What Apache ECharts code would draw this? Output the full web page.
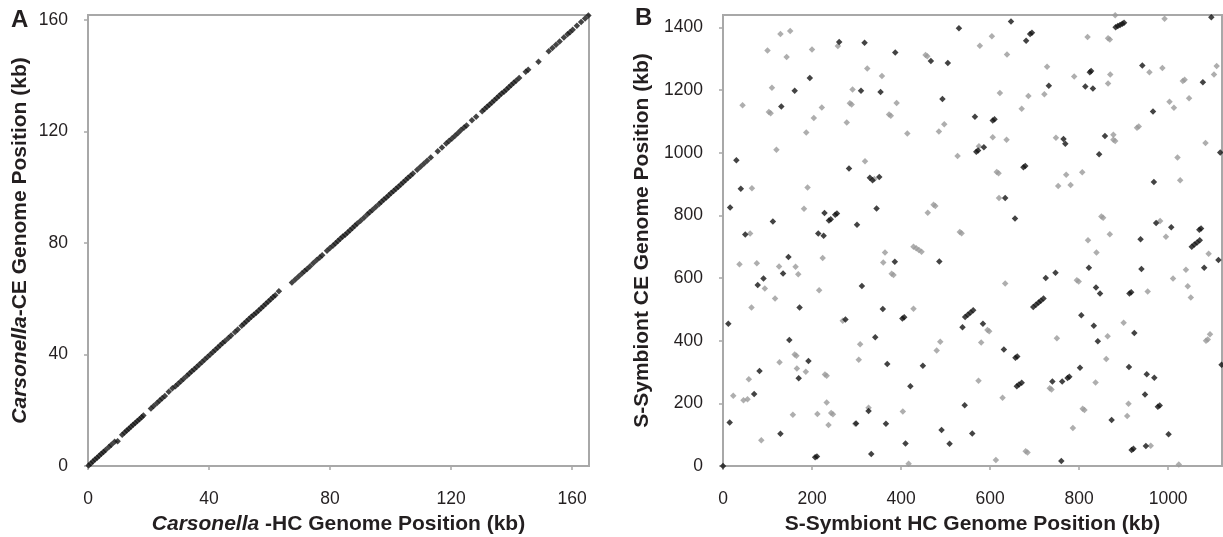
<!DOCTYPE html>
<html>
<head>
<meta charset="utf-8">
<script src="https://cdn.jsdelivr.net/npm/echarts@6/dist/echarts.min.js"></script>
<style>
html,body{margin:0;padding:0;background:#fff;}
#chart{width:1223px;height:537px;}
</style>
</head>
<body>
<div id="chart"></div>
<script>
// ---------- Panel A: Carsonella HC (x) vs CE (y), kb ----------
const aTicks = [0, 40, 80, 120, 160];
const aXMax = 165.6, aYMax = 161.8;
const aDots = [
 [0.2,0.2],[0.9,0.9],[1.6,1.6],[2.3,2.3],[3.0,3.0],[3.7,3.7],[4.4,4.4],[5.1,5.0],
 [5.8,5.7],[6.9,6.8],[7.7,7.6],[8.8,8.7],[9.8,8.9],
 [11.3,11.2],[12.1,12.0],
 [12.8,12.7],[13.5,13.4],[14.2,14.1],[14.9,14.8],[15.6,15.4],[16.3,16.1],[17.0,16.8],[17.7,17.5],[18.3,18.1],
 [20.8,20.6],[21.7,21.5],
 [22.8,22.6],[23.7,23.5],[24.5,24.3],[25.4,25.1],
 [26.7,26.6],[27.9,27.9],
 [28.9,28.6],[29.8,29.5],[30.7,30.4],[31.6,31.3],
 [32.7,32.4],[33.5,33.2],[34.3,34.0],[35.1,34.7],[35.9,35.5],[36.8,36.4],
 [37.7,37.3],[38.6,38.2],[39.5,39.1],[40.4,40.0],
 [41.3,40.9],[42.1,41.7],[42.9,42.5],[43.7,43.3],[44.5,44.1],[45.3,44.8],
 [46.4,45.9],[47.3,46.8],[48.6,48.1],[49.5,49.0],
 [50.8,50.3],[51.6,51.1],[52.4,51.9],[53.2,52.7],[54.0,53.5],[54.8,54.3],[55.6,55.0],[56.4,55.8],
 [57.2,56.6],[58.0,57.4],[58.8,58.2],[59.6,59.0],[60.4,59.8],[61.2,60.6],[61.9,61.3],
 [63.1,62.7],
 [67.4,65.8],[68.5,66.9],[69.6,68.0],[70.7,69.1],[71.6,70.0],
 [72.4,70.7],[73.4,71.7],[74.5,72.8],[75.6,73.9],[76.6,74.8],[77.4,75.6],
 [79.0,77.2],[80.0,78.2],[81.0,79.1],
 [81.8,79.9],[82.6,80.7],[83.4,81.5],[84.2,82.3],[85.0,83.0],[85.8,83.8],[86.6,84.6],[87.4,85.4],[88.2,86.2],[89.0,87.0],
 [90.1,88.0],[91.2,89.1],[92.3,90.2],[93.1,91.0],
 [94.0,91.8],[95.1,92.9],[96.2,94.0],[97.0,94.8],
 [97.8,95.6],[98.6,96.3],[99.4,97.1],[100.2,97.9],[101.0,98.7],[101.8,99.5],[102.6,100.2],[103.4,101.0],
 [104.2,101.8],[105.0,102.6],[105.8,103.4],[106.6,104.1],[107.4,104.9],
 [108.8,106.3],[109.9,107.4],[111.0,108.4],[112.1,109.5],[113.3,110.7],
 [115.6,112.9],[117.0,114.3],[118.4,115.7],
 [119.3,116.6],[120.3,117.5],[121.3,118.5],[122.3,119.5],[123.3,120.5],[124.3,121.4],[125.1,122.2],
 [126.9,124.0],[128.3,125.3],
 [130.3,127.3],[131.1,128.1],[131.9,128.9],[132.7,129.6],[133.5,130.4],[134.3,131.2],[135.1,132.0],[135.9,132.8],
 [136.7,133.6],[137.5,134.3],[138.3,135.1],[139.1,135.9],[139.9,136.7],[140.7,137.5],[141.5,138.2],
 [142.5,139.2],[144.7,141.4],[145.5,142.2],
 [148.9,145.0],
 [152.3,148.8],[153.5,150.0],[154.7,151.1],[155.9,152.3],
 [157.3,153.7],[158.5,154.9],[159.3,155.6],
 [160.2,156.5],[161.6,157.9],[163.0,159.3],[164.3,160.5],[165.4,161.6]
];

// ---------- Panel B: S-Symbiont HC (x) vs CE (y), kb ----------
const bXTicks = [0, 200, 400, 600, 800, 1000];
const bYTicks = [0, 200, 400, 600, 800, 1000, 1200, 1400];
const bXMax = 1121, bYMax = 1440;
const bBlack = [
 [261,1354],[318,1351],[387,1320],[195,1239],[161,1198],[310,1198],[354,1194],[131,1148],[30,976],[283,950],
 [330,920],[336,912],[351,923],[40,885],[16,825],[345,822],[112,781],[228,808],[238,784],[242,788],[252,802],[256,806],
 [301,770],[50,739],[214,742],[226,735],[147,667],[386,652],
 [135,615],[78,578],[91,599],[172,506],[312,575],[12,454],[275,468],[359,501],[403,471],[407,475],[149,402],[342,411],
 [192,335],[170,280],[82,303],[369,326],[70,230],[421,255],[327,176],[299,136],[366,135],[129,103],[15,139],
 [207,28],[211,30],[333,38],[410,72],[0,0],
 [530,1398],[647,1419],[882,1401],[887,1405],[892,1408],[897,1412],[901,1415],[690,1379],[694,1383],[681,1358],
 [1097,1433],[467,1293],[505,1287],[824,1257],[827,1261],[942,1279],[1078,1225],[732,1214],[814,1212],[831,1205],
 [493,1172],[966,1132],[566,1115],[606,1103],[610,1107],[765,1044],[769,1029],[858,1054],[1117,1001],[569,1003],
 [573,1007],[586,1018],[845,995],[675,954],[679,958],[968,907],[634,856],[656,790],[973,776],[1007,762],[1070,754],
 [1074,758],[1053,700],[1059,707],[1065,714],[1071,721],[938,724],[1113,658],[486,653],[822,633],[940,629],[1081,633],
 [725,600],[747,617],[838,570],[847,551],[913,551],[917,555],[544,476],[550,483],[556,490],[562,497],[697,508],
 [703,515],[709,522],[714,528],[720,535],[538,443],[584,454],[805,481],[833,448],[842,398],[924,425],[631,372],
 [657,346],[661,350],[802,314],[912,316],[952,293],[969,282],[1120,323],[449,320],[660,255],[665,260],[671,266],
 [740,270],[762,270],[774,281],[778,285],[543,194],[948,228],[977,189],[981,193],[873,147],[491,115],[509,71],
 [560,104],[760,16],[918,51],[922,55],[950,64],[1001,101]
];
const bGray = [
 [129,1379],[151,1389],[100,1327],[143,1306],[258,1341],[200,1330],[324,1269],[357,1245],[110,1208],[291,1202],
 [44,1152],[103,1130],[107,1126],[222,1145],[285,1158],[289,1154],[390,1159],[204,1111],[373,1122],[377,1118],
 [278,1097],[187,1065],[414,1062],[120,1010],[319,973],[340,916],[65,887],[190,889],[182,821],[61,742],[224,664],
 [364,682],[37,644],[76,647],[126,637],[163,636],[360,650],
 [169,612],[379,614],[383,610],[94,567],[117,535],[216,561],[64,506],[269,464],[428,502],[308,389],[127,331],
 [161,356],[165,352],[166,311],[186,301],[58,277],[305,339],[23,224],[46,210],[55,213],[229,292],[233,288],
 [233,203],[243,169],[247,165],[404,174],[157,164],[212,166],[237,131],[327,186],[297,135],[86,82],[417,7],
 [881,1439],[992,1428],[604,1372],[577,1342],[819,1370],[865,1366],[869,1362],[455,1312],[459,1308],[638,1314],
 [728,1275],[958,1257],[987,1271],[1109,1277],[1103,1250],[1033,1229],[1037,1233],[789,1244],[870,1250],[865,1221],
 [622,1191],[686,1181],[722,1187],[671,1141],[1003,1163],[1013,1144],[1047,1174],[497,1091],[485,1068],[930,1080],
 [934,1084],[606,1050],[637,1042],[748,1048],[877,1058],[877,1042],[881,1038],[1084,1031],[575,1021],[527,990],
 [1021,985],[615,939],[619,935],[771,930],[807,938],[753,894],[781,897],[1027,912],[620,856],[460,809],[473,834],
 [477,830],[532,747],[536,743],[428,700],[434,695],[440,690],[446,684],[850,797],[854,793],[982,782],[869,740],
 [995,732],[820,721],[839,682],[1091,678],[1040,627],
 [795,593],[799,589],[634,583],[1011,599],[1044,574],[1051,538],[954,557],[594,434],[598,430],[864,414],[900,457],
 [750,408],[488,397],[480,369],[580,394],[861,342],[1085,400],[1089,404],[1094,421],[574,272],[734,248],[738,244],
 [837,267],[628,218],[808,183],[812,179],[911,199],[908,160],[786,121],[680,47],[684,43],[613,19],[961,65],[1024,5]
];

const FONT = "'Liberation Sans', Arial, Helvetica, sans-serif";
const AXC = '#a8a8a8';
const TXT = '#231f20';

function axis(gridIndex, max, ticks, isX, name, gap) {
  return {
    type: 'value', gridIndex, min: 0, max,
    interval: ticks[1] - ticks[0],
    axisLine: { show: true, onZero: false, lineStyle: { color: AXC, width: 2 } },
    axisTick: { show: true, length: 4, customValues: ticks, lineStyle: { color: AXC, width: 1.5 } },
    axisLabel: {
      show: true, customValues: ticks, fontSize: 17.5, color: TXT, fontFamily: FONT,
      margin: isX ? 24 : 20,
      formatter: v => (ticks.indexOf(v) >= 0 ? String(v) : '')
    },
    splitLine: { show: false },
    name, nameLocation: 'middle', nameGap: gap,
    nameTextStyle: {
      fontSize: 21, fontWeight: 'bold', color: TXT, fontFamily: FONT,
      rich: { i: { fontSize: 21, fontWeight: 'bold', fontStyle: 'italic', color: TXT, fontFamily: FONT } }
    }
  };
}

const chart = echarts.init(document.getElementById('chart'), null, { renderer: 'canvas' });
chart.setOption({
  animation: false,
  backgroundColor: '#fff',
  grid: [
    { left: 88, top: 15, width: 501, height: 451, show: true, borderColor: AXC, borderWidth: 2, containLabel: false, outerBoundsMode: 'none' },
    { left: 723, top: 15, width: 499, height: 451, show: true, borderColor: AXC, borderWidth: 2, containLabel: false, outerBoundsMode: 'none' }
  ],
  xAxis: [
    axis(0, aXMax, aTicks, true, '{i|Carsonella} -HC Genome Position (kb)', 48),
    axis(1, bXMax, bXTicks, true, 'S-Symbiont HC Genome Position (kb)', 48)
  ],
  yAxis: [
    axis(0, aYMax, aTicks, false, '{i|Carsonella}-CE Genome Position (kb)', 57),
    axis(1, bYMax, bYTicks, false, 'S-Symbiont CE Genome Position (kb)', 70)
  ],
  graphic: [
    { type: 'text', left: 11, top: 8, style: { text: 'A', font: "bold 24px " + FONT, fill: TXT } },
    { type: 'text', left: 635, top: 6, style: { text: 'B', font: "bold 24px " + FONT, fill: TXT } }
  ],
  series: [
    { type: 'scatter', xAxisIndex: 0, yAxisIndex: 0, data: aDots, symbol: 'diamond', symbolSize: 6.5,
      itemStyle: { color: '#151515' }, silent: true },
    { type: 'scatter', xAxisIndex: 1, yAxisIndex: 1, data: bGray, symbol: 'diamond', symbolSize: 6.5,
      itemStyle: { color: '#9a9a9a' }, silent: true },
    { type: 'scatter', xAxisIndex: 1, yAxisIndex: 1, data: bBlack, symbol: 'diamond', symbolSize: 6.5,
      itemStyle: { color: '#141414' }, silent: true }
  ]
});
</script>
</body>
</html>
